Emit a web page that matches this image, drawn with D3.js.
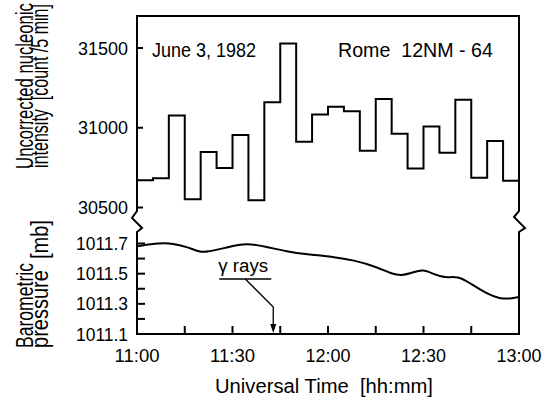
<!DOCTYPE html>
<html><head><meta charset="utf-8">
<script src="https://cdn.jsdelivr.net/npm/d3@7"></script>
<style>
html,body{margin:0;padding:0;background:#fff;}
svg{display:block;}
text{font-family:"Liberation Sans",Arial,sans-serif;fill:#000;white-space:pre;}
</style></head>
<body>
<script>
// ---- data ----
const binStartMinutes = [0,5,10,15,20,25,30,35,40,45,50,55,60,65,70,75,80,85,90,95,100,105,110,115]; // minutes after 11:00
const countValues = [30671,30683,31077,30552,30848,30748,30954,30546,31160,31529,30912,31083,31131,31104,30856,31181,30962,30744,31008,30844,31175,30687,30917,30667];
const pressureTimes = [0,7.2,11.3,15.6,19.8,21.9,28.2,34.5,40.7,47,53.3,61.7,68,75.3,80.5,83.7,86.8,89.8,93.1,96.8,100.9,104.6,109.9,114,117.2,120];
const pressureValues = [1011.682,1011.704,1011.700,1011.678,1011.643,1011.643,1011.674,1011.704,1011.678,1011.647,1011.628,1011.612,1011.590,1011.546,1011.493,1011.489,1011.509,1011.529,1011.498,1011.470,1011.485,1011.437,1011.366,1011.334,1011.334,1011.345];
const xTickValues = [0,30,60,90,120];
const xTickLabels = ["11:00","11:30","12:00","12:30","13:00"];
const xMinorTicks = [15,30,45,60,75,90,105];
const countTicks = [30500,31000,31500];
const pressureTicks = [1011.1,1011.2,1011.3,1011.4,1011.5,1011.6,1011.7];
const pressureLabels = ["1011.1","1011.3","1011.5","1011.7"];
const gammaTime = 42.8;

const W=547,H=403;
const L=137,R=519,T=16,B=334;
const svg=d3.select("body").append("svg").attr("width",W).attr("height",H);

const x=d3.scaleLinear().domain([0,120]).range([L,R]);
const yC=d3.scaleLinear().domain([30500,31500]).range([207.5,48]);
const yP=d3.scaleLinear().domain([1011.1,1011.7]).range([B,243.5]);

// text fitted to a target width by horizontal scaling
function fitText(px,py,s,size,anchor,len,rot,dy){
  const t=svg.append("text").attr("font-size",size).attr("text-anchor",anchor).text(s);
  if(dy) t.attr("dy",dy);
  const nat=t.node().getComputedTextLength();
  const k=len/nat;
  t.attr("transform",`translate(${px},${py})${rot?" rotate(-90)":""} scale(${k},1)`);
  return t;
}

// frame with breaks
const bTop=211,bBot=232;
svg.append("path").attr("fill","none").attr("stroke","#000").attr("stroke-width",2).attr("stroke-linejoin","miter")
 .attr("d",`M${L},${T-1} V${bTop} L${L-5},${bTop+7} L${L+5},${bBot-4} L${L},${bBot} V${B} H${R} V${bBot} L${R+6},${bBot-4} L${R-5},${bTop+6} L${R},${bTop} V${T} H${L}`);

// ticks
const tk=svg.append("g").attr("stroke","#000").attr("stroke-width",2);
countTicks.forEach(v=>tk.append("line").attr("x1",L).attr("x2",L+6).attr("y1",yC(v)).attr("y2",yC(v)));
pressureTicks.forEach(v=>tk.append("line").attr("x1",L).attr("x2",L+8).attr("y1",yP(v)).attr("y2",yP(v)));
xMinorTicks.forEach(v=>tk.append("line").attr("x1",x(v)).attr("x2",x(v)).attr("y1",B).attr("y2",B-8));

// tick labels
const fs=19;
countTicks.forEach(v=>fitText(L-9,yC(v),String(v),fs,"end",50,false,"0.35em"));
pressureLabels.forEach(s=>fitText(L-9,yP(+s),s,fs,"end",52,false,"0.35em"));
xTickValues.forEach((v,i)=>fitText(x(v),B+28,xTickLabels[i],fs,"middle",45,false));

// axis titles
fitText(324,393,"Universal Time  [hh:mm]",21,"middle",218,false);
fitText(33,86,"Uncorrected nucleonic",24.5,"middle",166,true);
fitText(48,86,"intensity  [count /5 min]",24.5,"middle",164,true);
fitText(33,348,"Barometric",24.5,"start",85,true);
fitText(48,348,"pressure  [mb]",24.5,"start",128,true);

// annotations
fitText(152,57,"June 3, 1982",20,"start",104,false);
fitText(338,57,"Rome  12NM - 64",20,"start",155,false);

// step line
const stepData=binStartMinutes.map((t,i)=>[t,countValues[i]]);
stepData.push([120,countValues[countValues.length-1]]);
svg.append("path").datum(stepData).attr("fill","none").attr("stroke","#000").attr("stroke-width",2)
 .attr("d",d3.line().x(d=>x(d[0])).y(d=>yC(d[1])).curve(d3.curveStepAfter));

// pressure curve
svg.append("path").datum(pressureTimes.map((t,i)=>[t,pressureValues[i]])).attr("fill","none").attr("stroke","#000").attr("stroke-width",2)
 .attr("d",d3.line().x(d=>x(d[0])).y(d=>yP(d[1])).curve(d3.curveBasis));

// gamma rays annotation
const gx=x(gammaTime);
fitText(gx-55,272,"γ rays",19,"start",50,false);
const ga=svg.append("g").attr("stroke","#000").attr("stroke-width",1.3).attr("fill","none");
ga.append("line").attr("x1",gx-54).attr("x2",gx-2).attr("y1",279).attr("y2",279);
ga.append("polyline").attr("points",`${gx-28},279 ${gx},307 ${gx},329`);
svg.append("path").attr("fill","#000").attr("d",`M${gx-3},324 L${gx+3},324 L${gx},333 Z`);
</script>
</body></html>
